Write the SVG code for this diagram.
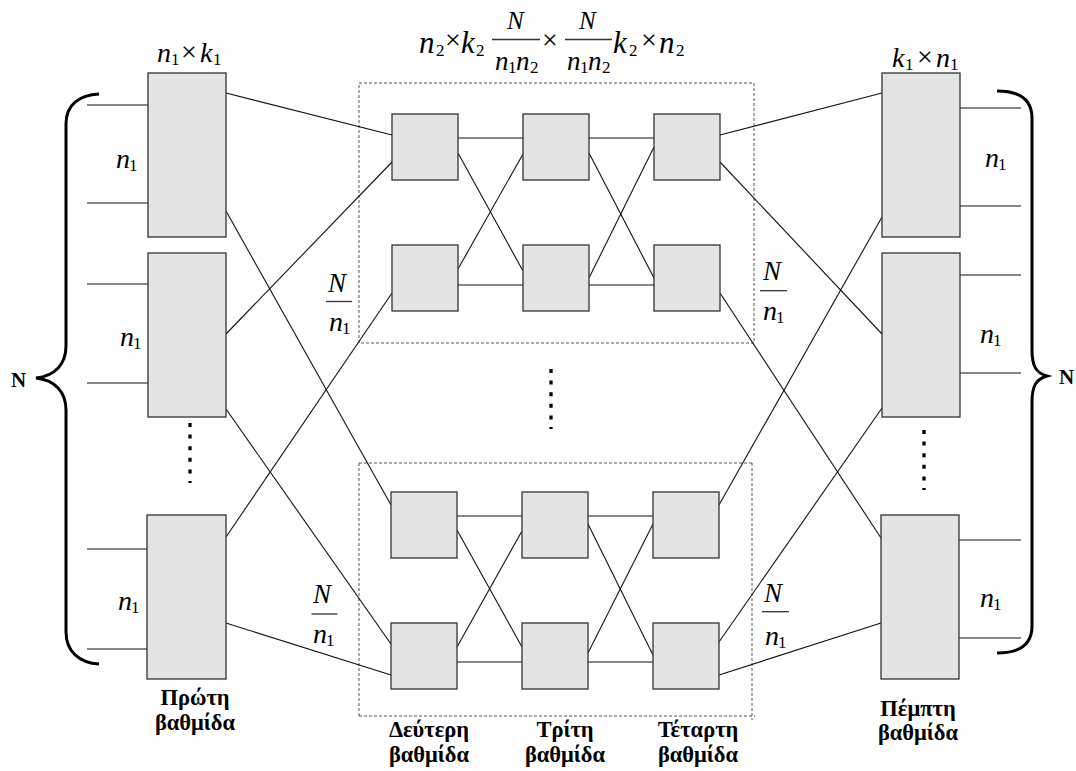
<svg xmlns="http://www.w3.org/2000/svg" width="1076" height="771" viewBox="0 0 1076 771">
  <style>
    .box { fill: #e4e4e4; stroke: #333; stroke-width: 1.3; }
    .wire { stroke: #111; stroke-width: 1.1; fill: none; }
    .frame { fill: none; stroke: #555; stroke-width: 1; stroke-dasharray: 3 2; }
    .dots { stroke: #000; stroke-width: 3.3; stroke-dasharray: 4 7.6; }
    .brace { fill: none; stroke: #000; stroke-width: 3; stroke-linecap: butt; }
    .bar { stroke: #333; stroke-width: 1.3; }
    .mi { font-family: "Liberation Serif", "Times New Roman", serif; font-style: italic; font-size: 28px; fill: #000; }
    .big { font-size: 31px; }
    .num { font-size: 27px; }
    .hN { font-size: 25px; }
    .sub { font-family: "Liberation Serif", "Times New Roman", serif; font-style: normal; font-size: 17px; fill: #000; }
    .op { font-family: "Liberation Serif", "Times New Roman", serif; font-style: normal; font-size: 28px; fill: #000; }
    .stage { font-family: "Liberation Serif", "Times New Roman", serif; font-weight: bold; font-size: 22.5px; fill: #000; text-anchor: middle; }
    .bold { font-family: "Liberation Serif", "Times New Roman", serif; font-weight: bold; font-size: 21px; fill: #000; }
  </style>

  <!-- dotted frames around the middle sub-networks -->
  <g id="frames">
    <rect class="frame" x="359" y="83" width="395" height="260"/>
    <line class="frame" x1="359" y1="463" x2="752" y2="463"/>
    <line class="frame" x1="752" y1="463" x2="752" y2="720"/>
    <line class="frame" x1="359" y1="716" x2="755" y2="716"/>
    <line class="frame" x1="359" y1="463" x2="359" y2="716"/>
  </g>

  <!-- connectors -->
  <g id="connectors">
    <!-- first stage inputs -->
    <line class="wire" x1="87" y1="105" x2="148" y2="105"/>
    <line class="wire" x1="87" y1="203" x2="148" y2="203"/>
    <line class="wire" x1="87" y1="284" x2="148" y2="284"/>
    <line class="wire" x1="87" y1="383" x2="148" y2="383"/>
    <line class="wire" x1="87" y1="549" x2="147" y2="549"/>
    <line class="wire" x1="87" y1="649" x2="147" y2="649"/>
    <!-- fifth stage outputs -->
    <line class="wire" x1="960" y1="108" x2="1021" y2="108"/>
    <line class="wire" x1="960" y1="206" x2="1021" y2="206"/>
    <line class="wire" x1="960" y1="275" x2="1021" y2="275"/>
    <line class="wire" x1="960" y1="373" x2="1021" y2="373"/>
    <line class="wire" x1="959" y1="540" x2="1021" y2="540"/>
    <line class="wire" x1="959" y1="638" x2="1021" y2="638"/>
    <!-- stage 1 to stage 2 -->
    <line class="wire" x1="226" y1="93" x2="392" y2="135"/>
    <line class="wire" x1="226" y1="211" x2="391" y2="505"/>
    <line class="wire" x1="226" y1="334" x2="392" y2="162"/>
    <line class="wire" x1="226" y1="409" x2="391" y2="644"/>
    <line class="wire" x1="226" y1="537" x2="392" y2="293"/>
    <line class="wire" x1="226" y1="623" x2="391" y2="675"/>
    <!-- upper block: stage 2 to 3 -->
    <line class="wire" x1="458" y1="138" x2="523" y2="138"/>
    <line class="wire" x1="458" y1="285" x2="523" y2="285"/>
    <line class="wire" x1="458" y1="153" x2="523" y2="271"/>
    <line class="wire" x1="458" y1="269" x2="523" y2="154"/>
    <!-- upper block: stage 3 to 4 -->
    <line class="wire" x1="589" y1="138" x2="654" y2="138"/>
    <line class="wire" x1="589" y1="285" x2="654" y2="285"/>
    <line class="wire" x1="589" y1="153" x2="654" y2="278"/>
    <line class="wire" x1="589" y1="278" x2="654" y2="147"/>
    <!-- lower block: stage 2 to 3 -->
    <line class="wire" x1="457" y1="516" x2="522" y2="516"/>
    <line class="wire" x1="457" y1="662" x2="522" y2="662"/>
    <line class="wire" x1="457" y1="530" x2="522" y2="647"/>
    <line class="wire" x1="457" y1="647" x2="522" y2="531"/>
    <!-- lower block: stage 3 to 4 -->
    <line class="wire" x1="588" y1="516" x2="653" y2="516"/>
    <line class="wire" x1="588" y1="662" x2="653" y2="662"/>
    <line class="wire" x1="588" y1="524" x2="653" y2="655"/>
    <line class="wire" x1="588" y1="653" x2="653" y2="524"/>
    <!-- stage 4 to stage 5 -->
    <line class="wire" x1="720" y1="135" x2="882" y2="93"/>
    <line class="wire" x1="720" y1="162" x2="882" y2="334"/>
    <line class="wire" x1="720" y1="293" x2="881" y2="538"/>
    <line class="wire" x1="719" y1="505" x2="882" y2="217"/>
    <line class="wire" x1="719" y1="642" x2="882" y2="408"/>
    <line class="wire" x1="719" y1="675" x2="881" y2="623"/>
  </g>

  <!-- first stage -->
  <g id="s1a"><rect class="box" x="148" y="73" width="78" height="164"/></g>
  <g id="s1b"><rect class="box" x="148" y="253" width="78" height="164"/></g>
  <g id="s1c"><rect class="box" x="147" y="515" width="79" height="164"/></g>

  <!-- second, third and fourth stages, upper block -->
  <g id="s2r1"><rect class="box" x="392" y="114" width="66" height="66"/></g>
  <g id="s3r1"><rect class="box" x="523" y="114" width="66" height="66"/></g>
  <g id="s4r1"><rect class="box" x="654" y="114" width="66" height="66"/></g>
  <g id="s2r2"><rect class="box" x="392" y="245" width="66" height="66"/></g>
  <g id="s3r2"><rect class="box" x="523" y="245" width="66" height="66"/></g>
  <g id="s4r2"><rect class="box" x="654" y="245" width="66" height="66"/></g>

  <!-- lower block -->
  <g id="s2r3"><rect class="box" x="391" y="492" width="66" height="66"/></g>
  <g id="s3r3"><rect class="box" x="522" y="492" width="66" height="66"/></g>
  <g id="s4r3"><rect class="box" x="653" y="492" width="66" height="66"/></g>
  <g id="s2r4"><rect class="box" x="391" y="623" width="66" height="66"/></g>
  <g id="s3r4"><rect class="box" x="522" y="623" width="66" height="66"/></g>
  <g id="s4r4"><rect class="box" x="653" y="623" width="66" height="66"/></g>

  <!-- fifth stage -->
  <g id="s5a"><rect class="box" x="882" y="73" width="78" height="164"/></g>
  <g id="s5b"><rect class="box" x="882" y="253" width="78" height="164"/></g>
  <g id="s5c"><rect class="box" x="881" y="515" width="78" height="164"/></g>

  <!-- ellipsis dots -->
  <g id="ellipses">
    <line class="dots" x1="190" y1="423" x2="190" y2="483"/>
    <line class="dots" x1="551" y1="369" x2="551" y2="429"/>
    <line class="dots" x1="924" y1="430" x2="924" y2="490"/>
  </g>

  <!-- braces with N -->
  <g id="brace-left">
    <path class="brace" d="M99,94 C80,95 66,104 66,124 L66,346 C66,364 55,376 36,378 C55,380 66,392 66,410 L66,632 C66,652 80,663 99,664"/>
    <text class="bold" x="11" y="387">N</text>
  </g>
  <g id="brace-right">
    <path class="brace" d="M997,91 C1018,91 1032,98 1032,118 L1032,350 C1032,366 1036,373 1047,376 C1036,379 1032,386 1032,402 L1032,626 C1032,646 1018,653 997,653"/>
    <text class="bold" x="1059" y="384">N</text>
  </g>

  <!-- size labels -->
  <g id="label-s1">
    <text class="mi" x="157" y="62">n</text><text class="sub" x="171" y="65">1</text>
    <text class="op" x="181" y="61">×</text>
    <text class="mi" x="200" y="62">k</text><text class="sub" x="213" y="65">1</text>
  </g>
  <g id="label-s5">
    <text class="mi" x="892" y="67">k</text><text class="sub" x="905" y="70">1</text>
    <text class="op" x="917" y="66">×</text>
    <text class="mi" x="936" y="67">n</text><text class="sub" x="950" y="70">1</text>
  </g>
  <g id="label-mid">
    <text class="mi big" x="419" y="53">n</text><text class="sub" x="436" y="56">2</text>
    <text class="op" x="445" y="49">×</text>
    <text class="mi big" x="461" y="53">k</text><text class="sub" x="476" y="56">2</text>
    <text class="mi hN" x="507" y="29">N</text>
    <line class="bar" x1="492" y1="39.5" x2="540" y2="39.5"/>
    <text class="mi num" x="495" y="70">n</text><text class="sub" x="508" y="73">1</text>
    <text class="mi num" x="516" y="70">n</text><text class="sub" x="530" y="73">2</text>
    <text class="op" x="542" y="49">×</text>
    <text class="mi hN" x="579" y="29">N</text>
    <line class="bar" x1="565" y1="39.5" x2="612" y2="39.5"/>
    <text class="mi num" x="567" y="70">n</text><text class="sub" x="580" y="73">1</text>
    <text class="mi num" x="588" y="70">n</text><text class="sub" x="602" y="73">2</text>
    <text class="mi big" x="613" y="53">k</text><text class="sub" x="629" y="56">2</text>
    <text class="op" x="641" y="49">×</text>
    <text class="mi big" x="659" y="53">n</text><text class="sub" x="676" y="56">2</text>
  </g>

  <!-- n1 group labels -->
  <g id="n1-labels">
    <text class="mi" x="116" y="168">n</text><text class="sub" x="129" y="171">1</text>
    <text class="mi" x="120" y="346">n</text><text class="sub" x="133" y="349">1</text>
    <text class="mi" x="118" y="610">n</text><text class="sub" x="131" y="613">1</text>
    <text class="mi" x="985" y="167">n</text><text class="sub" x="998" y="170">1</text>
    <text class="mi" x="980" y="343">n</text><text class="sub" x="993" y="346">1</text>
    <text class="mi" x="980" y="607">n</text><text class="sub" x="993" y="610">1</text>
  </g>

  <!-- N/n1 fan-out labels -->
  <g id="fan-labels">
    <text class="mi num" x="328" y="292">N</text>
    <line class="bar" x1="326" y1="301.5" x2="352" y2="301.5"/>
    <text class="mi" x="329" y="331">n</text><text class="sub" x="342" y="334">1</text>

    <text class="mi num" x="313" y="603">N</text>
    <line class="bar" x1="311.5" y1="614" x2="337.5" y2="614"/>
    <text class="mi" x="313" y="643">n</text><text class="sub" x="326" y="646">1</text>

    <text class="mi num" x="763" y="280">N</text>
    <line class="bar" x1="760" y1="290.7" x2="787" y2="290.7"/>
    <text class="mi" x="763" y="320">n</text><text class="sub" x="776" y="323">1</text>

    <text class="mi num" x="764" y="602">N</text>
    <line class="bar" x1="762" y1="611.7" x2="789" y2="611.7"/>
    <text class="mi" x="765" y="645">n</text><text class="sub" x="778" y="648">1</text>
  </g>

  <!-- stage names -->
  <g id="stage-names">
    <text class="stage" x="195" y="705">Πρώτη</text>
    <text class="stage" x="195" y="730">βαθμίδα</text>
    <text class="stage" x="429" y="737">Δεύτερη</text>
    <text class="stage" x="429" y="762">βαθμίδα</text>
    <text class="stage" x="565" y="737">Τρίτη</text>
    <text class="stage" x="565" y="762">βαθμίδα</text>
    <text class="stage" x="698" y="737">Τέταρτη</text>
    <text class="stage" x="698" y="762">βαθμίδα</text>
    <text class="stage" x="918" y="716">Πέμπτη</text>
    <text class="stage" x="918" y="740">βαθμίδα</text>
  </g>
</svg>
